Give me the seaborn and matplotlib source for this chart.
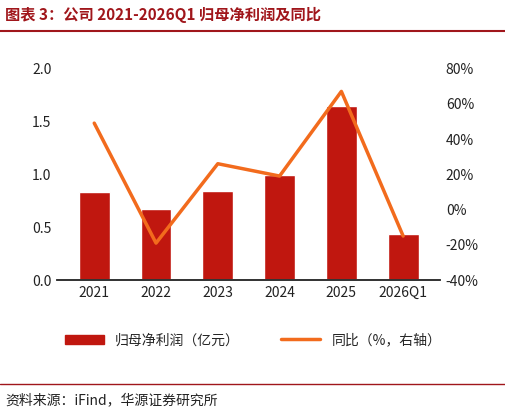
import matplotlib
matplotlib.use("Agg")
import matplotlib.pyplot as plt
import seaborn as sns
import pandas as pd
from matplotlib.ticker import FuncFormatter

sns.set_theme(style="white")
plt.rcParams['font.family'] = ['Noto Sans CJK SC', 'DejaVu Sans']

years = ["2021", "2022", "2023", "2024", "2025", "2026Q1"]
profit = [0.83, 0.67, 0.84, 0.99, 1.65, 0.44]
yoy = [49, -19, 26, 19, 67, -15]

df = pd.DataFrame({"year": years, "profit": profit, "yoy": yoy})

fig = plt.figure(figsize=(5.06, 4.15), dpi=100)
ax = fig.add_axes([0.113, 0.325, 0.757, 0.51])
sns.barplot(data=df, x="year", y="profit", color="#C0170F", width=0.5, ax=ax, saturation=1)
ax.set_ylim(0, 2.0)
ax.set_yticks([0, 0.5, 1.0, 1.5, 2.0])
ax.yaxis.set_major_formatter(FuncFormatter(lambda v, p: f"{v:.1f}"))
ax.set_xlabel(""); ax.set_ylabel("")
ax2 = ax.twinx()
sns.lineplot(x=list(range(len(years))), y=yoy, color="#F26B1D", linewidth=2.5, ax=ax2)
ax2.set_ylim(-40, 80)
ax2.set_yticks(range(-40, 81, 20))
ax2.yaxis.set_major_formatter(FuncFormatter(lambda v, p: f"{int(v)}%"))
for a in (ax, ax2):
    for s in ("top", "left", "right"):
        a.spines[s].set_visible(False)
    a.tick_params(labelsize=10, colors="#222222", length=0, pad=4)
ax.spines["bottom"].set_color("#999999")
ax.set_xlim(-0.6, 5.6)

from matplotlib.patches import Patch
from matplotlib.lines import Line2D
handles = [Patch(color="#C0170F"), Line2D([], [], color="#F26B1D", lw=2.5)]
fig.legend(handles, ["归母净利润（亿元）", "同比（%，右轴）"], loc="center",
           bbox_to_anchor=(0.5, 0.18), ncol=2, frameon=False, fontsize=10,
           handlelength=2.8, columnspacing=3)

fig.text(0.01, 0.965, "图表 3：公司 2021-2026Q1 归母净利润及同比", fontsize=11,
         fontweight="bold", color="#A0161B", va="center")
fig.add_artist(Line2D([0.0, 1.0], [0.925, 0.925], color="#A0161B", lw=1.5))
fig.add_artist(Line2D([0.0, 1.0], [0.075, 0.075], color="#A0161B", lw=1.0))
fig.text(0.01, 0.035, "资料来源：iFind，华源证券研究所", fontsize=10, color="#222222", va="center")

fig.savefig("out.png", dpi=100)
